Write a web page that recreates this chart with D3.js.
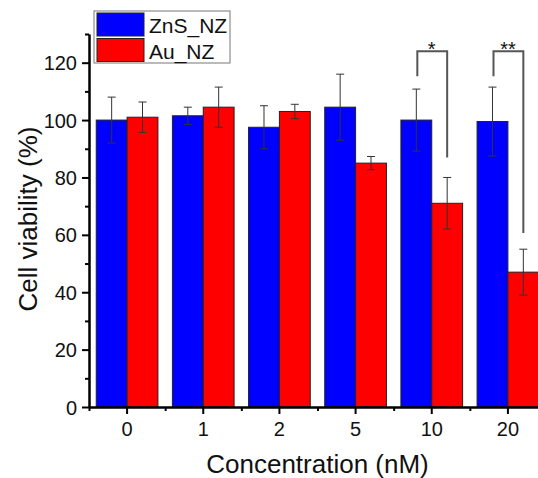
<!DOCTYPE html>
<html>
<head>
<meta charset="utf-8">
<script src="https://cdn.jsdelivr.net/npm/d3@7"></script>
<style>
  body { margin: 0; background: #fff; }
  svg { display: block; font-family: "Liberation Sans", Arial, sans-serif; }
</style>
</head>
<body>
<svg id="chart" width="538" height="478"></svg>
<script>
(function () {
  'use strict';

  // data
  var concentrations = ['0', '1', '2', '5', '10', '20'];
  var seriesNames = ['ZnS_NZ', 'Au_NZ'];
  var seriesColors = ['#0000ff', '#ff0000'];
  var znsValues = [100, 101.5, 97.5, 104.5, 100, 99.5];
  var znsErrors = [8, 3, 7.5, 11.5, 10.8, 12];
  var auValues = [101, 104.5, 103, 85, 71, 47];
  var auErrors = [5.3, 7, 2.5, 2.3, 9, 8];
  var yTicks = [0, 20, 40, 60, 80, 100, 120];
  var yMinorTicks = [10, 30, 50, 70, 90, 110, 130];
  // significance brackets: category, top, left end, right end, label
  var brackets = [
    {cat: '10', top: 124, left: 115.3, right: 87, label: '*'},
    {cat: '20', top: 124, left: 115.3, right: 60.6, label: '**'}
  ];

  var svg = d3.select('#chart');

  var x = d3.scaleBand()
    .domain(concentrations)
    .range([89, 546]);
  var xSub = d3.scaleBand()
    .domain(seriesNames)
    .range([x.bandwidth() * 0.095, x.bandwidth() * 0.905]);
  var xEdges = d3.scaleLinear()
    .domain([0, concentrations.length])
    .range(x.range());
  var y = d3.scaleLinear()
    .domain([0, 130])
    .range([407, 34]);

  var rows = concentrations.map(function (c, i) {
    return {
      cat: c,
      bars: [
        {name: seriesNames[0], value: znsValues[i], err: znsErrors[i], color: seriesColors[0]},
        {name: seriesNames[1], value: auValues[i], err: auErrors[i], color: seriesColors[1]}
      ]
    };
  });

  var groups = svg.selectAll('.group')
    .data(rows)
    .enter()
    .append('g')
    .attr('class', 'group')
    .attr('transform', function (d) { return 'translate(' + x(d.cat) + ',0)'; });

  var bar = groups.selectAll('.bar')
    .data(function (d) { return d.bars; })
    .enter()
    .append('g')
    .attr('class', 'bar');

  bar.append('rect')
    .attr('x', function (d) { return xSub(d.name); })
    .attr('y', function (d) { return y(d.value); })
    .attr('width', xSub.bandwidth())
    .attr('height', function (d) { return y(0) - y(d.value); })
    .style('fill', function (d) { return d.color; })
    .style('stroke', '#222')
    .style('stroke-width', 1);

  // error bars
  var cap = 4;
  bar.append('path')
    .attr('d', function (d) {
      var cx = xSub(d.name) + xSub.bandwidth() / 2;
      var y0 = y(d.value - d.err);
      var y1 = y(d.value + d.err);
      return 'M' + cx + ',' + y0 + 'V' + y1 +
        'M' + (cx - cap) + ',' + y1 + 'H' + (cx + cap) +
        'M' + (cx - cap) + ',' + y0 + 'H' + (cx + cap);
    })
    .style('fill', 'none')
    .style('stroke', '#333')
    .style('stroke-width', 1);

  // axes
  var yAxis = svg.append('g')
    .attr('class', 'axis axis--y')
    .attr('transform', 'translate(' + x.range()[0] + ',0)')
    .call(d3.axisLeft(y).tickValues(yTicks).tickSize(7).tickSizeOuter(0).tickPadding(5));
  svg.append('g')
    .attr('class', 'axis axis--y-minor')
    .attr('transform', 'translate(' + x.range()[0] + ',0)')
    .call(d3.axisLeft(y).tickValues(yMinorTicks).tickSize(4).tickSizeOuter(0).tickFormat(''));

  var xAxis = svg.append('g')
    .attr('class', 'axis axis--x')
    .attr('transform', 'translate(0,' + y(0) + ')')
    .call(d3.axisBottom(x).tickSize(7).tickSizeOuter(0).tickPadding(8));
  svg.append('g')
    .attr('class', 'axis axis--x-minor')
    .attr('transform', 'translate(0,' + y(0) + ')')
    .call(d3.axisBottom(xEdges).tickValues(d3.range(0, concentrations.length + 1)).tickSize(4).tickSizeOuter(0).tickFormat(''));

  svg.selectAll('.axis path, .axis line')
    .style('stroke', '#000')
    .style('stroke-width', 2);
  svg.selectAll('.axis text')
    .style('font-family', '"Liberation Sans", Arial, sans-serif')
    .style('font-size', '20px')
    .style('fill', '#111');
  yAxis.selectAll('text').attr('dy', '0.35em');
  xAxis.selectAll('text').attr('dy', '0.72em');

  // axis titles
  svg.append('text')
    .attr('class', 'axis-title')
    .attr('x', (x.range()[0] + x.range()[1]) / 2)
    .attr('y', 473)
    .style('text-anchor', 'middle')
    .style('font-size', '26px')
    .style('fill', '#111')
    .text('Concentration (nM)');
  svg.append('text')
    .attr('class', 'axis-title')
    .attr('transform', 'translate(37,' + 219 + ') rotate(-90)')
    .style('text-anchor', 'middle')
    .style('font-size', '26px')
    .style('fill', '#111')
    .text('Cell viability (%)');

  // significance brackets
  var sig = svg.selectAll('.sig')
    .data(brackets)
    .enter()
    .append('g')
    .attr('class', 'sig');
  sig.append('path')
    .attr('d', function (d) {
      var xl = x(d.cat) + xSub(seriesNames[0]) + xSub.bandwidth() / 2 + 1;
      var xr = x(d.cat) + xSub(seriesNames[1]) + xSub.bandwidth() / 2;
      return 'M' + xl + ',' + y(d.left) + 'V' + y(d.top) + 'H' + xr + 'V' + y(d.right);
    })
    .style('fill', 'none')
    .style('stroke', '#555')
    .style('stroke-width', 2);
  sig.append('text')
    .attr('x', function (d) {
      return x(d.cat) + x.bandwidth() / 2;
    })
    .attr('y', function (d) { return y(d.top) + 5; })
    .style('text-anchor', 'middle')
    .style('font-size', '20px')
    .style('fill', '#111')
    .text(function (d) { return d.label; });

  // legend
  var legend = svg.append('g')
    .attr('class', 'legend')
    .attr('transform', 'translate(94,11)');
  legend.append('rect')
    .attr('width', 136)
    .attr('height', 52)
    .style('fill', '#fff')
    .style('stroke', '#777')
    .style('stroke-width', 1);
  var item = legend.selectAll('.item')
    .data(seriesNames)
    .enter()
    .append('g')
    .attr('class', 'item')
    .attr('transform', function (d, i) { return 'translate(3,' + (2 + i * 25.5) + ')'; });
  item.append('rect')
    .attr('width', 47)
    .attr('height', 23)
    .style('fill', function (d, i) { return seriesColors[i]; })
    .style('stroke', '#222')
    .style('stroke-width', 1);
  item.append('text')
    .attr('x', 52)
    .attr('y', 20)
    .style('font-size', '21px')
    .style('fill', '#111')
    .text(function (d) { return d; });
}());
</script>
</body>
</html>
